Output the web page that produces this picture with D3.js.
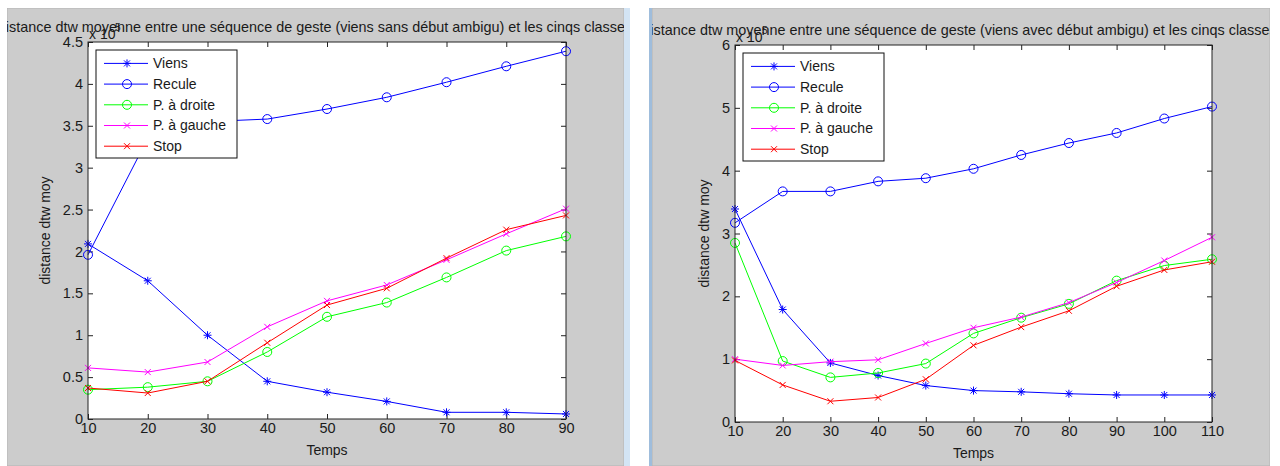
<!DOCTYPE html>
<html>
<head>
<meta charset="utf-8">
<script src="https://cdn.jsdelivr.net/npm/d3@7"></script>
<style>
  body { margin: 0; background: #fff; }
  text { font-family: "Liberation Sans", Arial, sans-serif; fill: #1a1a1a; }
</style>
</head>
<body>
<div id="chart"></div>
<script>
// series labels, legend order
var names = ["Viens", "Recule", "P. à droite", "P. à gauche", "Stop"]
var colors = ["#0000ff", "#0000ff", "#00ff00", "#ff00ff", "#ff0000"]
var markers = ["star", "circle", "circle", "x", "x"]

// left: viens sans début ambigu (values x 10^5)
var tempsA = [10, 20, 30, 40, 50, 60, 70, 80, 90]
var viensA = [2.09, 1.65, 1.0, 0.45, 0.32, 0.21, 0.08, 0.08, 0.06]
var reculeA = [1.96, 3.35, 3.55, 3.58, 3.70, 3.84, 4.02, 4.21, 4.39]
var droiteA = [0.35, 0.38, 0.45, 0.80, 1.22, 1.39, 1.69, 2.01, 2.18]
var gaucheA = [0.61, 0.56, 0.68, 1.10, 1.41, 1.60, 1.90, 2.21, 2.51]
var stopA = [0.37, 0.31, 0.45, 0.91, 1.36, 1.56, 1.92, 2.26, 2.43]
var yTicksA = [0, 0.5, 1, 1.5, 2, 2.5, 3, 3.5, 4, 4.5]

// right: viens avec début ambigu (values x 10^5)
var tempsB = [10, 20, 30, 40, 50, 60, 70, 80, 90, 100, 110]
var viensB = [3.39, 1.79, 0.94, 0.74, 0.58, 0.50, 0.48, 0.45, 0.43, 0.43, 0.43]
var reculeB = [3.17, 3.67, 3.67, 3.83, 3.88, 4.03, 4.25, 4.44, 4.60, 4.83, 5.02]
var droiteB = [2.85, 0.97, 0.71, 0.78, 0.93, 1.41, 1.66, 1.88, 2.25, 2.49, 2.59]
var gaucheB = [1.00, 0.90, 0.96, 0.99, 1.25, 1.50, 1.67, 1.90, 2.22, 2.57, 2.94]
var stopB = [0.98, 0.59, 0.33, 0.39, 0.68, 1.22, 1.51, 1.77, 2.16, 2.42, 2.55]
var yTicksB = [0, 1, 2, 3, 4, 5, 6]

var titleA = "distance dtw moyenne entre une séquence de geste (viens sans début ambigu) et les cinqs classes"
var titleB = "distance dtw moyenne entre une séquence de geste (viens avec début ambigu) et les cinqs classes"

var svg = d3.select("#chart").append("svg").attr("width", 1280).attr("height", 466)

// window borders between the two figures
svg.append("rect").attr("x", 624).attr("y", 8).attr("width", 6).attr("height", 458).attr("fill", "#d3e4f4")
svg.append("rect").attr("x", 649).attr("y", 8).attr("width", 3).attr("height", 458).attr("fill", "#9fbddc")

drawPanel({
	id: "a", px: 7, py: 8, pw: 617, ph: 458,
	x0: 88, x1: 566, y0: 42, y1: 419, ymax: 4.5, yticks: yTicksA,
	xs: tempsA, series: [viensA, reculeA, droiteA, gaucheA, stopA],
	title: titleA, titleDx: -12, labelX: 45
})
drawPanel({
	id: "b", px: 652, py: 8, pw: 618, ph: 458,
	x0: 735, x1: 1212, y0: 45, y1: 422, ymax: 6, yticks: yTicksB,
	xs: tempsB, series: [viensB, reculeB, droiteB, gaucheB, stopB],
	title: titleB, titleDx: -14, labelX: 704
})

function markerPath(type) {
	if (type == "star") return "M-4,0H4M0,-4V4M-3,-3L3,3M-3,3L3,-3"
	return "M-3,-3L3,3M-3,3L3,-3"
}

function drawMarker(g, type, color) {
	if (type == "circle") {
		g.append("circle").attr("r", 4.5).attr("fill", "none").attr("stroke", color)
	} else {
		g.append("path").attr("d", markerPath(type)).attr("fill", "none").attr("stroke", color)
	}
}

function drawPanel(p) {
	var clipId = "clip_" + p.id
	svg.append("clipPath").attr("id", clipId)
		.append("rect").attr("x", p.px).attr("y", p.py).attr("width", p.pw).attr("height", p.ph)

	var g = svg.append("g").attr("clip-path", "url(#" + clipId + ")")
	g.append("rect").attr("x", p.px).attr("y", p.py).attr("width", p.pw).attr("height", p.ph)
		.attr("fill", "#cccccc").attr("stroke", "#b4b4b4")

	var x = d3.scaleLinear().domain([p.xs[0], p.xs[p.xs.length - 1]]).range([p.x0, p.x1])
	var y = d3.scaleLinear().domain([0, p.ymax]).range([p.y1, p.y0])

	// title, clipped by the figure
	g.append("text").attr("x", (p.x0 + p.x1) / 2 + p.titleDx).attr("y", p.y0 - 10)
		.attr("text-anchor", "middle").style("font-size", "14.4px").text(p.title)

	// exponent label
	g.append("text").attr("x", p.x0 + 1).attr("y", p.y0 - 3).style("font-size", "14px").text("x 10")
	g.append("text").attr("x", p.x0 + 27).attr("y", p.y0 - 11).style("font-size", "10px").text("5")

	// plot area
	g.append("rect").attr("x", p.x0).attr("y", p.y0).attr("width", p.x1 - p.x0).attr("height", p.y1 - p.y0)
		.attr("fill", "#fff")

	var axB = g.append("g").attr("transform", "translate(0," + p.y1 + ")")
		.call(d3.axisBottom(x).tickValues(p.xs).tickSizeInner(-5).tickSizeOuter(0).tickPadding(4))
	var axL = g.append("g").attr("transform", "translate(" + p.x0 + ",0)")
		.call(d3.axisLeft(y).tickValues(p.yticks).tickFormat(function(d){ return String(d) })
			.tickSizeInner(-5).tickSizeOuter(0).tickPadding(5))
	var axT = g.append("g").attr("transform", "translate(0," + p.y0 + ")")
		.call(d3.axisTop(x).tickValues(p.xs).tickFormat("").tickSizeInner(-5).tickSizeOuter(0))
	var axR = g.append("g").attr("transform", "translate(" + p.x1 + ",0)")
		.call(d3.axisRight(y).tickValues(p.yticks).tickFormat("").tickSizeInner(-5).tickSizeOuter(0))

	;[axB, axL, axT, axR].forEach(function(a){
		a.select(".domain").remove()
		a.selectAll("line").attr("stroke", "#222")
		a.selectAll("text").style("font-size", "14.5px").style("font-family", "Liberation Sans, Arial, sans-serif")
			.attr("fill", "#1a1a1a")
	})

	var line = d3.line().x(function(d){ return x(d[0]) }).y(function(d){ return y(d[1]) })

	p.series.forEach(function(vals, k) {
		var pts = vals.map(function(v, i){ return [p.xs[i], v] })
		g.append("path").datum(pts).attr("d", line).attr("fill", "none")
			.attr("stroke", colors[k]).attr("stroke-width", 1)
		g.selectAll(".m" + k).data(pts).enter().append("g").attr("class", "m" + k)
			.attr("transform", function(d){ return "translate(" + x(d[0]) + "," + y(d[1]) + ")" })
			.each(function(){ drawMarker(d3.select(this), markers[k], colors[k]) })
	})

	// box
	g.append("rect").attr("x", p.x0).attr("y", p.y0).attr("width", p.x1 - p.x0).attr("height", p.y1 - p.y0)
		.attr("fill", "none").attr("stroke", "#222")

	// axis labels
	g.append("text").attr("x", (p.x0 + p.x1) / 2).attr("y", p.y1 + 36).attr("text-anchor", "middle")
		.style("font-size", "14px").text("Temps")
	g.append("text").attr("transform", "translate(" + p.labelX + "," + ((p.y0 + p.y1) / 2) + ") rotate(-90)")
		.attr("text-anchor", "middle").attr("dy", "0.35em").style("font-size", "14px").text("distance dtw moy")

	// legend
	var lx = p.x0 + 8, ly = p.y0 + 8
	var lg = g.append("g").attr("transform", "translate(" + lx + "," + ly + ")")
	lg.append("rect").attr("width", 141).attr("height", 108).attr("fill", "#fff").attr("stroke", "#111")
	names.forEach(function(n, k) {
		var ry = 13.4 + k * 20.7
		lg.append("line").attr("x1", 8).attr("x2", 52).attr("y1", ry).attr("y2", ry).attr("stroke", colors[k])
		drawMarker(lg.append("g").attr("transform", "translate(31," + ry + ")"), markers[k], colors[k])
		lg.append("text").attr("x", 57).attr("y", ry).attr("dy", "0.35em").style("font-size", "14px").text(n)
	})
}
</script>
</body>
</html>
